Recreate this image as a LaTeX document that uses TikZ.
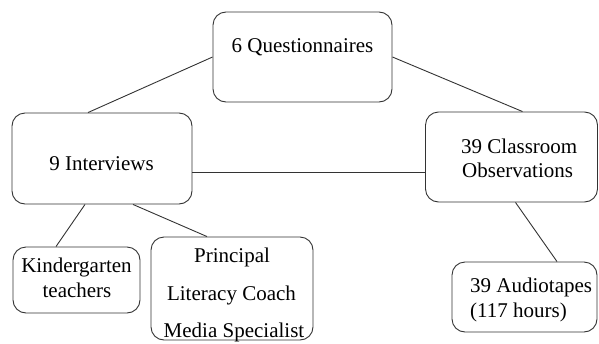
\documentclass[tikz,border=0pt]{standalone}
\usepackage{fontspec}
\setmainfont{Liberation Serif}
\begin{document}
\begin{tikzpicture}[x=1pt,y=-1pt,
  box/.style={draw=black!80,line width=0.9pt,rounded corners=13pt,inner sep=0pt},
  txt/.style={inner sep=0pt,font=\fontsize{21}{24}\selectfont,text=black},
  link/.style={draw=black!80,line width=0.9pt}]
\useasboundingbox (0,0) rectangle (599,343);
% boxes
\node[box,minimum width=179pt,minimum height=90pt] (q) at (302.5,57) {};
\node[box,minimum width=180pt,minimum height=91pt] (iv) at (102,158.5) {};
\node[box,minimum width=172pt,minimum height=90pt] (cl) at (511.5,157) {};
\node[box,minimum width=127pt,minimum height=66pt] (kg) at (76.5,280) {};
\node[box,minimum width=162pt,minimum height=103pt] (pr) at (232,288.5) {};
\node[box,minimum width=145pt,minimum height=70pt] (au) at (524.5,297) {};
% texts
\node[txt,anchor=base] (tq) at (302.5,52) {6 Questionnaires};
\node[txt,anchor=base] (tiv) at (101.5,170.5) {9 Interviews};
\node[txt,anchor=base west] (tcl1) at (461,153) {39 Classroom};
\node[txt,anchor=base west] (tcl2) at (462,177) {Observations};
\node[txt,anchor=base] (tkg1) at (76.5,272) {Kindergarten};
\node[txt,anchor=base] (tkg2) at (77,297) {teachers};
\node[txt,anchor=base] (tpr1) at (232,262) {Principal};
\node[txt,anchor=base] (tpr2) at (231.5,300) {Literacy Coach};
\node[txt,anchor=base] (tpr3) at (234,337) {Media Specialist};
\node[txt,anchor=base west] (tau1) at (470,292) {39 Audiotapes};
\node[txt,anchor=base west] (tau2) at (470,317) {(117 hours)};
% connectors
\draw[link] (q.west) -- ([xshift=-14pt]iv.north);
\draw[link] (q.east) -- ([xshift=11pt]cl.north);
\draw[link] ([yshift=-13.5pt]iv.east) -- ([yshift=-15pt]cl.west);
\draw[link] ([xshift=-17pt]iv.south) -- ([xshift=-20.5pt]kg.north);
\draw[link] ([xshift=31pt]iv.south) -- ([xshift=-25pt]pr.north);
\draw[link] ([xshift=4pt]cl.south) -- ([xshift=32.5pt]au.north);
\end{tikzpicture}
\end{document}
